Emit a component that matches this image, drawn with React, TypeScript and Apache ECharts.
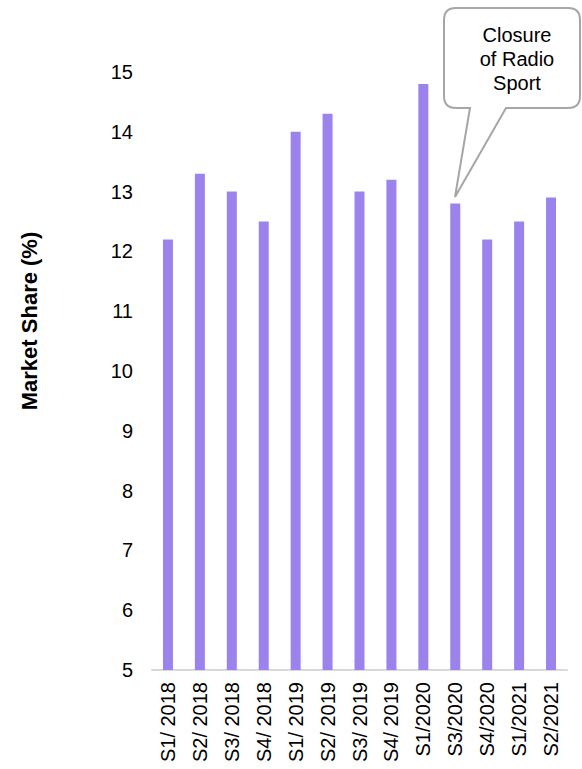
import React, { useEffect, useRef } from "react";
import * as echarts from "echarts";

const categories = [
  "S1/ 2018", "S2/ 2018", "S3/ 2018", "S4/ 2018",
  "S1/ 2019", "S2/ 2019", "S3/ 2019", "S4/ 2019",
  "S1/2020", "S3/2020", "S4/2020", "S1/2021", "S2/2021",
];
const marketShare = [12.2, 13.3, 13.0, 12.5, 14.0, 14.3, 13.0, 13.2, 14.8, 12.8, 12.2, 12.5, 12.9];
const yAxisTitle = "Market Share (%)";
const calloutText = "Closure\nof Radio\nSport";

const calloutPath =
  "M 456 8 L 568 8 Q 580 8 580 20 L 580 96 Q 580 108 568 108 L 506 108 L 455 197 L 470 108 L 456 108 Q 444 108 444 96 L 444 20 Q 444 8 456 8 Z";

echarts.graphic.registerShape("callout", echarts.graphic.extendPath(calloutPath, {}));

const FONT = "Liberation Sans, Arial, sans-serif";

export default function App() {
  const ref = useRef<HTMLDivElement>(null);
  useEffect(() => {
    document.body.style.margin = "0";
    const chart = echarts.init(ref.current!, undefined, { renderer: "svg" });
    chart.setOption({
      animation: false,
      textStyle: { fontFamily: FONT },
      grid: { left: 152, top: 72, width: 415, height: 598, containLabel: false },
      xAxis: {
        type: "category",
        data: categories,
        axisLine: { show: true, lineStyle: { color: "#d9d9d9", width: 2 } },
        axisTick: { show: false },
        axisLabel: {
          rotate: 90,
          interval: 0,
          fontSize: 20,
          color: "#000",
          margin: 12,
          fontFamily: FONT,
        },
      },
      yAxis: {
        type: "value",
        min: 5,
        max: 15,
        interval: 1,
        splitLine: { show: false },
        axisLine: { show: false },
        axisTick: { show: false },
        axisLabel: {
          fontSize: 20,
          color: "#000",
          margin: 19,
          fontFamily: FONT,
        },
      },
      series: [
        {
          type: "bar",
          data: marketShare,
          barWidth: 10,
          itemStyle: { color: "#9b83ee" },
        },
      ],
      graphic: [
        {
          type: "text",
          x: 29,
          y: 321,
          rotation: Math.PI / 2,
          style: {
            text: yAxisTitle,
            fontSize: 22,
            fontWeight: "bold",
            fill: "#000",
            align: "center",
            verticalAlign: "middle",
            fontFamily: FONT,
          },
        },
        {
          type: "callout",
          x: 0,
          y: 0,
          style: { fill: "#fff", stroke: "#a6a6a6", lineWidth: 2 },
        },
        {
          type: "text",
          x: 517,
          y: 59,
          style: {
            text: calloutText,
            fontSize: 20,
            lineHeight: 24,
            fill: "#000",
            align: "center",
            verticalAlign: "middle",
            fontFamily: FONT,
          },
        },
      ],
    });
    return () => chart.dispose();
  }, []);
  return <div ref={ref} style={{ width: 582, height: 769 }} />;
}
